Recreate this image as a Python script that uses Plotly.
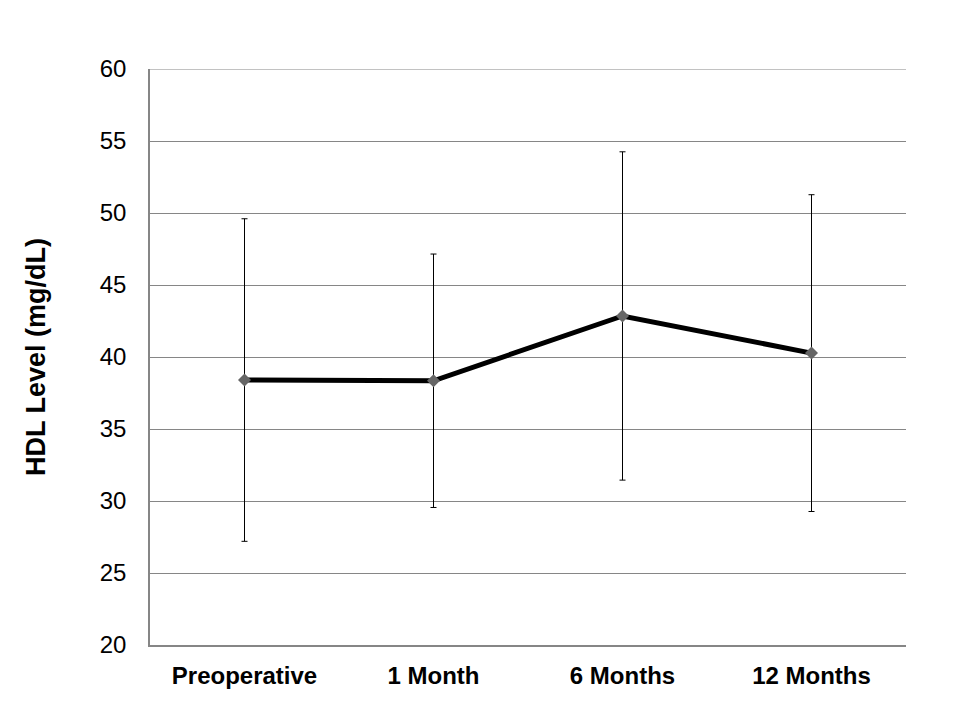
import plotly.graph_objects as go

categories = ["Preoperative", "1 Month", "6 Months", "12 Months"]
hdl_mean = [38.4, 38.35, 42.85, 40.27]
hdl_sd = [11.2, 8.8, 11.4, 11.0]
y_ticks = [20, 25, 30, 35, 40, 45, 50, 55, 60]

FONT = "Arial, Liberation Sans, sans-serif"
GRID = "#868686"

fig = go.Figure()
fig.add_trace(go.Scatter(
    x=categories,
    y=hdl_mean,
    mode="lines+markers",
    line=dict(color="black", width=5),
    marker=dict(symbol="diamond", size=10, color="#666666"),
    error_y=dict(type="data", array=hdl_sd, visible=True,
                 color="black", thickness=1, width=3),
    showlegend=False,
))

# top gridline at the upper end of the range (plotly hides edge gridlines)
fig.add_shape(type="line", xref="paper", yref="y",
              x0=0, x1=1, y0=y_ticks[-1], y1=y_ticks[-1],
              line=dict(color=GRID, width=1), layer="below")

fig.update_layout(
    width=960, height=720,
    margin=dict(l=142, r=62, t=61, b=83),
    paper_bgcolor="white",
    plot_bgcolor="white",
    font=dict(family=FONT, color="black"),
    xaxis=dict(
        range=[-0.5, 3.5],
        showgrid=False,
        showline=True, linecolor=GRID, linewidth=1.5,
        ticks="",
        ticklabelstandoff=8,
        tickfont=dict(family=FONT, size=24, color="black", weight="bold"),
        automargin=False,
    ),
    yaxis=dict(
        range=[y_ticks[0], y_ticks[-1]],
        tickvals=y_ticks,
        showgrid=True, gridcolor=GRID, gridwidth=1,
        showline=True, linecolor=GRID, linewidth=1.5,
        zeroline=False,
        ticks="",
        ticklabelstandoff=17,
        tickfont=dict(family=FONT, size=24, color="black"),
        title=dict(text="HDL Level (mg/dL)",
                   font=dict(family=FONT, size=27, color="black", weight="bold"),
                   standoff=46),
        automargin=False,
    ),
)

fig.write_html("out.html")
